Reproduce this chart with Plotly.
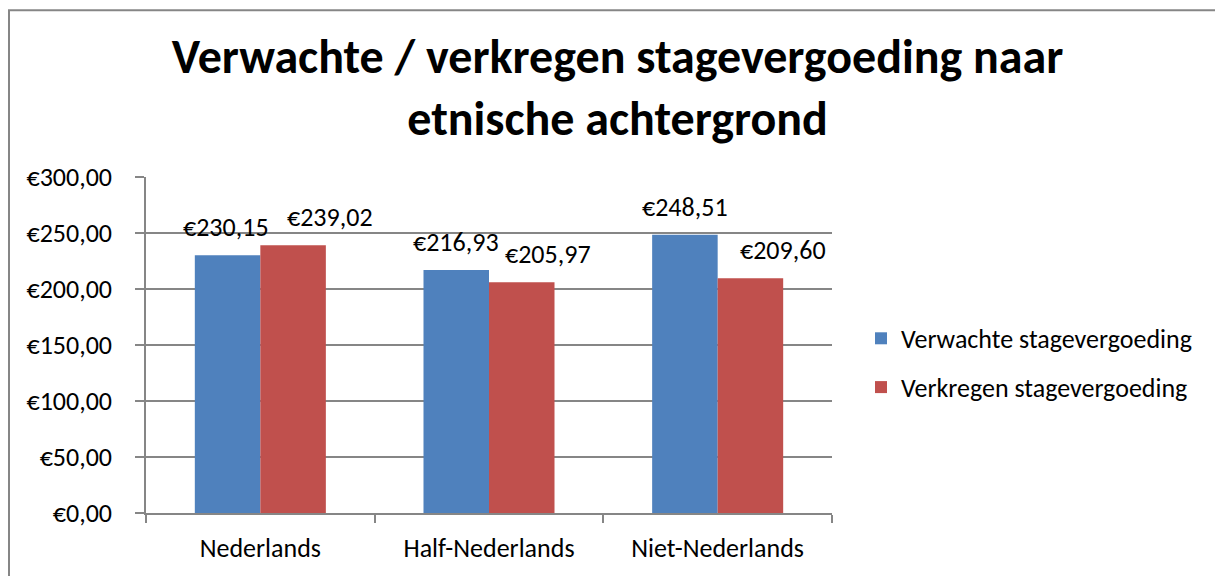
import plotly.graph_objects as go

categories = ["Nederlands", "Half-Nederlands", "Niet-Nederlands"]
verwacht = [230.15, 216.93, 248.51]
verkregen = [239.02, 205.97, 209.60]
series_names = ["Verwachte stagevergoeding", "Verkregen stagevergoeding"]
y_ticks = [0, 50, 100, 150, 200, 250, 300]

BLUE = "#4F81BD"
RED = "#C0504D"
GRID = "#868686"
FONT = "Carlito, Calibri, Lato, sans-serif"
FS = 26


def eur(v):
    return "€" + f"{v:,.2f}".replace(",", " ").replace(".", ",").replace(" ", ".")


fig = go.Figure()
fig.add_trace(go.Bar(x=categories, y=verwacht, name=series_names[0], marker_color=BLUE,
                     marker_line_width=0, legendgroup="a"))
fig.add_trace(go.Bar(x=categories, y=verkregen, name=series_names[1], marker_color=RED,
                     marker_line_width=0, legendgroup="b"))

# data labels
blue_dx = [-34, -33, -33]
red_dx = [70, 59, 65]
for i, c in enumerate(categories):
    fig.add_annotation(x=c, y=verwacht[i], xref="x", yref="y", text=eur(verwacht[i]),
                       showarrow=False, xshift=blue_dx[i], yshift=28, yanchor="middle",
                       font=dict(family=FONT, size=FS, color="#000"))
    fig.add_annotation(x=c, y=verkregen[i], xref="x", yref="y", text=eur(verkregen[i]),
                       showarrow=False, xshift=red_dx[i], yshift=28, yanchor="middle",
                       font=dict(family=FONT, size=FS, color="#000"))

OFF = 8  # page body offset
W, H = 1223 - OFF, 576 - OFF
L, R, T, B = 146 - OFF, 1223 - 832, 177 - OFF, 576 - 515
PW, PH = W - L - R, H - T - B

fig.add_shape(type="rect", xref="paper", yref="paper",
              x0=(9 - 146) / PW, x1=2.0, y0=-1.0, y1=(515 - (OFF + 1.2)) / PH,
              line=dict(color=GRID, width=2), fillcolor="rgba(0,0,0,0)", layer="below")

fig.update_layout(
    width=W, height=H,
    margin=dict(l=L, r=R, t=T, b=B),
    paper_bgcolor="white", plot_bgcolor="white",
    barmode="group", bargap=0.427, bargroupgap=0,
    title=dict(text="Verwachte / verkregen stagevergoeding naar<br>etnische achtergrond",
               x=(617.5 - OFF) / W, xanchor="center", y=1 - (73 - OFF) / H, yanchor="middle",
               font=dict(family=FONT, size=48, color="#000", weight="bold")),
    font=dict(family=FONT, size=FS, color="#000"),
    legend=dict(x=(861 - 146) / PW, xanchor="left", y=(515 - 364) / PH, yanchor="middle",
                font=dict(family=FONT, size=FS, color="#000"),
                tracegroupgap=12, traceorder="grouped", bgcolor="rgba(0,0,0,0)"),
    showlegend=True,
)
fig.update_xaxes(showline=True, linecolor=GRID, linewidth=1.5, ticks="outside", tickson="boundaries",
                 ticklen=8, tickcolor=GRID, tickwidth=1.5, ticklabelstandoff=11,
                 tickfont=dict(family=FONT, size=FS, color="#000"), showgrid=False)
fig.update_yaxes(range=[0, 300], tickvals=y_ticks, ticktext=[eur(v) for v in y_ticks],
                 showline=True, linecolor=GRID, linewidth=1.5, ticks="outside", ticklen=9,
                 tickcolor=GRID, tickwidth=1.5, ticklabelstandoff=18,
                 showgrid=True, gridcolor=GRID, gridwidth=1.5, zeroline=False,
                 tickfont=dict(family=FONT, size=FS, color="#000"))

fig.write_html("out.html")
